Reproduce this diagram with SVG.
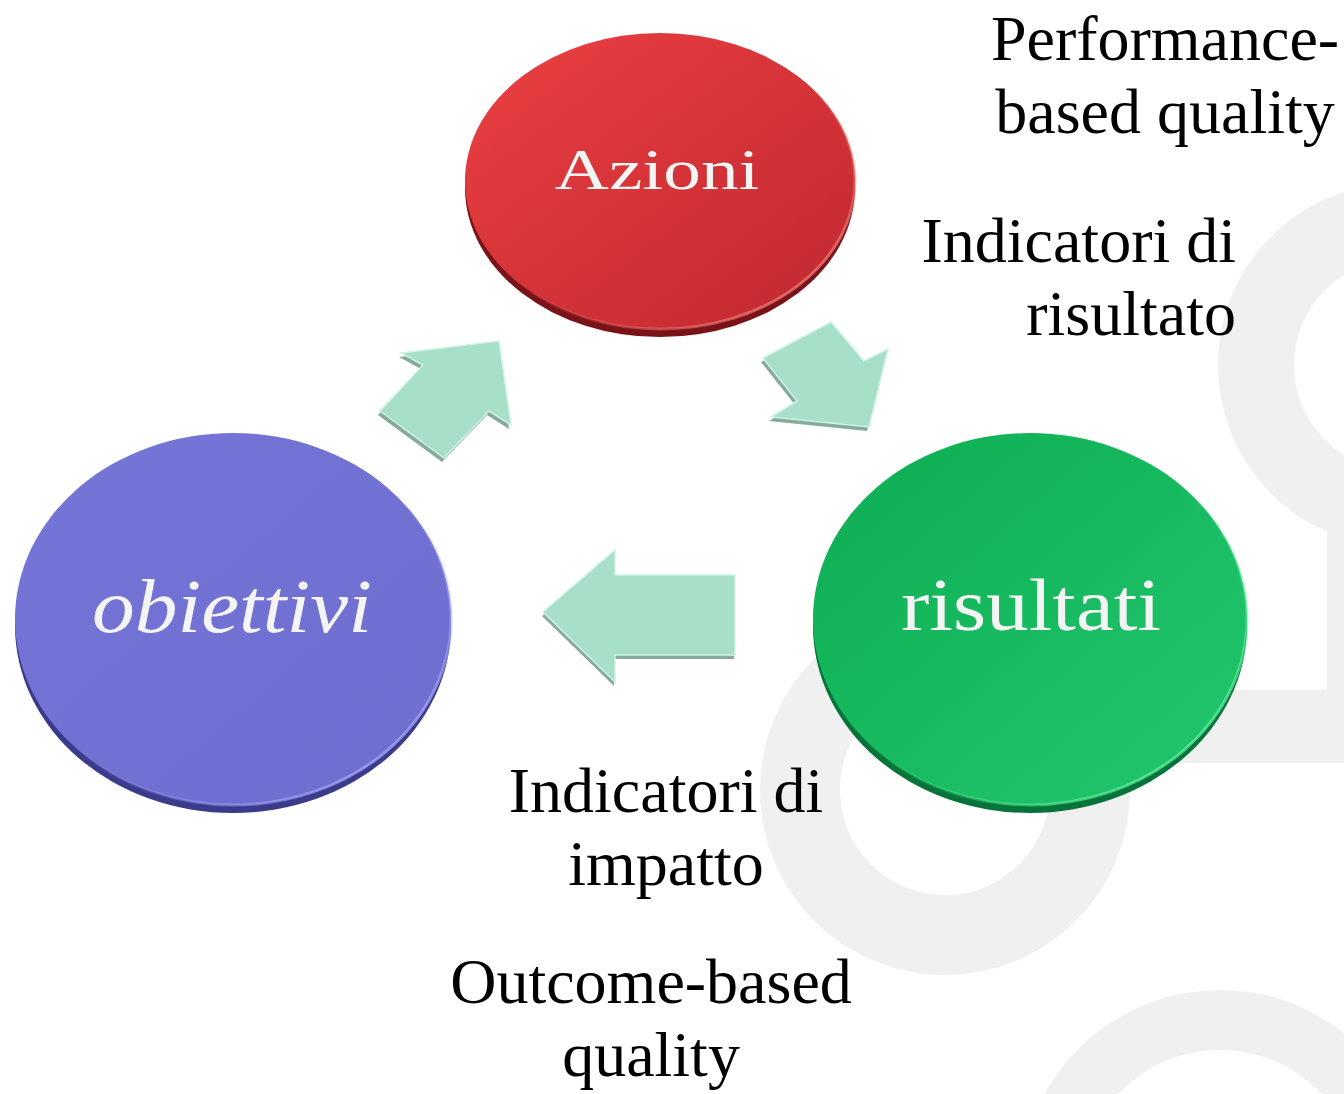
<svg xmlns="http://www.w3.org/2000/svg" width="1344" height="1094" viewBox="0 0 1344 1094">
<style>
.bg{fill:none;stroke:#f0f0f0}
.lbl{font-family:"Liberation Serif","Times New Roman",serif;font-size:64px;fill:#000}
.disc{font-family:"Liberation Serif","Times New Roman",serif;fill:#f4f4f4}
.arr{fill:#a8dfc8;stroke:#cdf3e4;stroke-width:1.5;stroke-linejoin:miter}
.arrsh{fill:#5e8d7b;opacity:0.75}
</style>
<defs>
<linearGradient id="gRed" x1="0" y1="0" x2="1" y2="1"><stop offset="0" stop-color="#ec4043"/><stop offset="1" stop-color="#bf282e"/></linearGradient>
<linearGradient id="gGreen" x1="0" y1="0" x2="1" y2="1"><stop offset="0" stop-color="#0dac52"/><stop offset="1" stop-color="#22c86e"/></linearGradient>
<linearGradient id="gBlue" x1="0" y1="0" x2="1" y2="1"><stop offset="0" stop-color="#7576d8"/><stop offset="1" stop-color="#6d6dce"/></linearGradient>
<linearGradient id="hRed" x1="0" y1="0" x2="1" y2="1"><stop offset="0.5" stop-color="#f06a6a" stop-opacity="0"/><stop offset="1" stop-color="#f58a8a"/></linearGradient>
<linearGradient id="hGreen" x1="0" y1="0" x2="1" y2="1"><stop offset="0.5" stop-color="#5ff09a" stop-opacity="0"/><stop offset="1" stop-color="#6ff5a8"/></linearGradient>
<linearGradient id="hBlue" x1="0" y1="0" x2="1" y2="1"><stop offset="0.5" stop-color="#a0a0ff" stop-opacity="0"/><stop offset="1" stop-color="#b0b0ff"/></linearGradient>
</defs>
<rect width="1344" height="1094" fill="#ffffff"/>
<g id="background">
<circle class="bg" cx="1400" cy="365" r="144" stroke-width="76"/>
<circle class="bg" cx="945" cy="790" r="145" stroke-width="80"/>
<circle class="bg" cx="1220" cy="1190" r="170" stroke-width="60"/>
<rect x="1100" y="690" width="244" height="73" fill="#f0f0f0"/>
<rect x="1327" y="480" width="17" height="283" fill="#f0f0f0"/>
</g>
<g id="connectors">
<g id="arrow-obiettivi-azioni">
<polygon class="arrsh" transform="translate(-2,4)" points="401,353 499,341 511,425 489,411 444,458 380,411 423,365"/>
<polygon class="arr" points="401,353 499,341 511,425 489,411 444,458 380,411 423,365"/>
</g>
<g id="arrow-azioni-risultati">
<polygon class="arrsh" transform="translate(-2,4)" points="763,358 831,322 864,361 888,349 869,427 771,417 797,401"/>
<polygon class="arr" points="763,358 831,322 864,361 888,349 869,427 771,417 797,401"/>
</g>
<g id="arrow-risultati-obiettivi">
<polygon class="arrsh" transform="translate(-1,4)" points="543,612 615,550 615,575 735,575 735,655 615,655 615,682"/>
<polygon class="arr" points="543,612 615,550 615,575 735,575 735,655 615,655 615,682"/>
</g>
</g>
<g id="node-azioni">
<ellipse cx="660" cy="188" rx="195" ry="149" fill="#7a1318"/>
<ellipse cx="660" cy="181" rx="195" ry="148" fill="url(#gRed)" stroke="url(#hRed)" stroke-width="3"/>
<text class="disc" x="657" y="189" font-size="58" text-anchor="middle" textLength="205" lengthAdjust="spacingAndGlyphs">Azioni</text>
</g>
<g id="node-obiettivi">
<ellipse cx="233" cy="626" rx="218" ry="187" fill="#3b3b8c"/>
<ellipse cx="233" cy="619" rx="218" ry="186" fill="url(#gBlue)" stroke="url(#hBlue)" stroke-width="3"/>
<text class="disc" x="232" y="632" font-size="76" font-style="italic" text-anchor="middle" textLength="280" lengthAdjust="spacingAndGlyphs">obiettivi</text>
</g>
<g id="node-risultati">
<ellipse cx="1030" cy="626" rx="217" ry="187" fill="#06743a"/>
<ellipse cx="1030" cy="619" rx="217" ry="186" fill="url(#gGreen)" stroke="url(#hGreen)" stroke-width="3"/>
<text class="disc" x="1031" y="630" font-size="75" text-anchor="middle" textLength="260" lengthAdjust="spacingAndGlyphs">risultati</text>
</g>
<g id="labels">
<text class="lbl" x="1165" y="60" text-anchor="middle">Performance-</text>
<text class="lbl" x="1165" y="133" text-anchor="middle">based quality</text>
<text class="lbl" x="1236" y="262" text-anchor="end">Indicatori di</text>
<text class="lbl" x="1236" y="335" text-anchor="end">risultato</text>
<text class="lbl" x="666" y="812" text-anchor="middle">Indicatori di</text>
<text class="lbl" x="666" y="885" text-anchor="middle">impatto</text>
<text class="lbl" x="651" y="1003" text-anchor="middle">Outcome-based</text>
<text class="lbl" x="651" y="1076" text-anchor="middle">quality</text>
</g>
</svg>
